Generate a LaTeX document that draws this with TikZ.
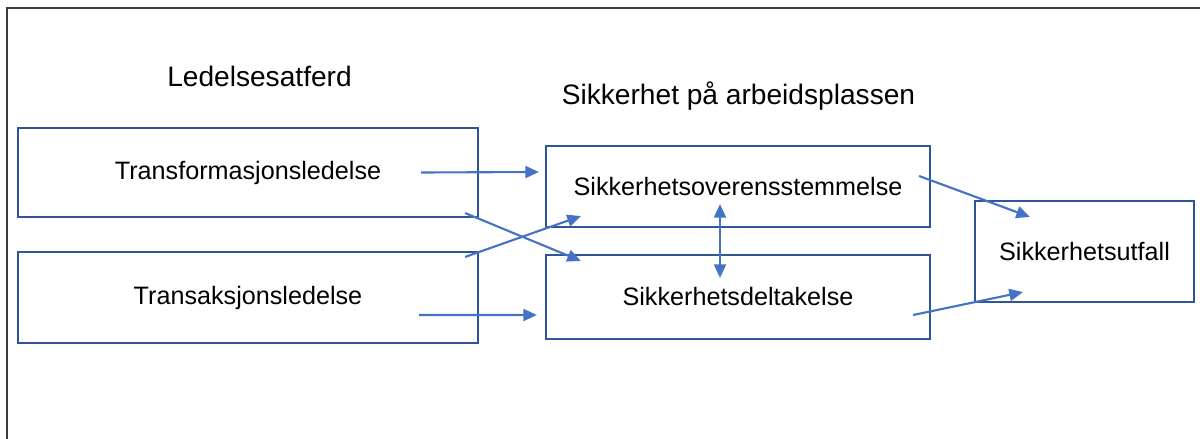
\documentclass[tikz,border=0pt]{standalone}
\usepackage{fontspec}
\setmainfont{Liberation Sans}
\definecolor{boxblue}{RGB}{47, 85, 151}
\definecolor{arrowblue}{RGB}{68, 114, 196}
\definecolor{framegray}{RGB}{60, 60, 60}
\usepackage{tikz}
\usetikzlibrary{arrows.meta, positioning, calc}

\begin{document}
\begin{tikzpicture}[
  x=0.025cm, y=-0.025cm,
  factorbox/.style={draw=boxblue, line width=1.5pt, inner sep=0pt, align=center, font=\fontsize{17.9}{21}\selectfont},
  heading/.style={anchor=base, font=\fontsize{20}{24}\selectfont},
  link/.style={draw=arrowblue, line width=1.5pt, -{Triangle[length=0.34cm, width=0.3cm]}},
  duallink/.style={link, {Triangle[length=0.34cm, width=0.3cm]}-{Triangle[length=0.34cm, width=0.3cm]}}
]
  \useasboundingbox (0,0) rectangle (1200,439);
  \draw[framegray, line width=1.8pt] (7,439) -- (7,8) -- (1200,8);

  \node[heading] (lead) at (259.5, 87) {Ledelsesatferd};
  \node[heading] (work) at (738.5, 105) {Sikkerhet på arbeidsplassen};

  \node[factorbox, minimum width=11.5cm, minimum height=2.225cm] (trf) at (248, 172.5) {Transformasjonsledelse};
  \node[factorbox, minimum width=11.5cm, minimum height=2.275cm] (trs) at (248, 297.5) {Transaksjonsledelse};
  \node[factorbox, minimum width=9.6cm, minimum height=2.025cm] (ovr) at (738, 186.5) {Sikkerhetsoverensstemmelse};
  \node[factorbox, minimum width=9.6cm, minimum height=2.1cm] (dlt) at (738, 297) {Sikkerhetsdeltakelse};
  \node[factorbox, minimum width=5.475cm, minimum height=2.525cm] (utf) at (1084.5, 251.5) {Sikkerhetsutfall};

  \draw[link] ($(trf.east)+(-58,0)$) -- ($(ovr.west)+(-6,-14.5)$);
  \draw[link] ($(trs.east)+(-60,17.5)$) -- ($(dlt.west)+(-8,18)$);
  \draw[link] ($(trf.south east)+(-14,-5)$) -- ($(dlt.north west)+(36,7)$);
  \draw[link] ($(trs.north east)+(-14,6)$) -- ($(ovr.south west)+(36,-12)$);
  \draw[duallink] ($(ovr.south)+(-18,-24)$) -- ($(dlt.north)+(-18,24)$);
  \draw[link] ($(ovr.east)+(-12,-10.5)$) -- ($(utf.north west)+(56,17)$);
  \draw[link] ($(dlt.east)+(-18,18)$) -- ($(utf.south west)+(49,-11)$);
\end{tikzpicture}
\end{document}
